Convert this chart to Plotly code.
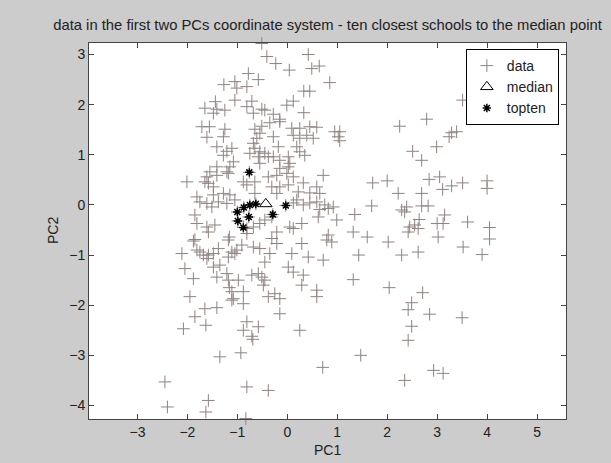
import plotly.graph_objects as go

# ---- data ----
data_x = [
    -0.51, -0.41, -0.23, 0.42, 0.04, 0.49, 0.64, 0.85, -0.78, -0.58,
    -1.05, -1.27, -1.01, -0.81, 0.33, 0.45, -1.05,
    -1.65, -1.44, -1.41, -1.25, -1.48,
    -0.81, -0.71, -0.68, -0.51, -0.45, -0.28, -0.15,
    -0.01, 0.12, 0.33,
    -1.71, -1.56, -1.61, -1.25, -1.28,
    -0.65, -0.51, -0.55, -0.35, -0.61, -0.28, -0.15,
    0.09, 0.25, 0.45, 0.59, 0.39, 0.52, 0.25, 0.12,
    0.95, 1.05, 1.02, 1.05,
    -1.41, -1.21, -1.28, -1.11,
    -0.68, -0.65, -0.75, -0.55, -0.58, -0.45, -0.38, -0.55,
    -0.18, -0.28, -0.15, 0.02, 0.19, 0.25, 0.35, 0.05,
    -1.41, -1.55, -1.61, -1.41, -1.21, -1.15, -1.08, -1.18, -1.48, -1.58,
    -2.01, -1.65, -0.88, -0.81, -0.65,
    -0.38, -0.21, -0.15, 0.02, -0.01, 0.12, -0.31, -0.15, 0.02, -0.21,
    0.32, 0.45, 0.22, 0.72, 0.59, 0.65,
    -1.81, -1.75, -1.85,
    -1.61, -1.51, -1.48, -1.38, -1.21, -1.05, -1.15, -1.28, -0.65,
    0.12, 0.19, 0.32, 0.45, 0.59, 0.75, 0.92, 0.65, 0.82,
    -1.81, -1.61, -1.58, -1.45, -1.85, -1.88, -1.16, -1.18, -1.38,
    -1.81, -1.75, -1.68, -1.58, -1.61, -2.11, -1.48, -1.11, -1.18,
    -1.01, -1.05, -0.91, -0.68, -0.55, -0.81, -0.81,
    -0.68, -0.55, -0.45, -0.31, -0.21, -0.31, -0.21, -0.35, -0.45,
    0.05, 0.12, 0.29, 0.29, 0.09, 0.42, 0.72, 0.82, 0.89, 0.79, 0.62, 0.99,
    -2.05, -1.88, -1.48, -1.35, -1.41, -1.21, -1.18,
    -1.16, -1.11, -1.08, -1.11, -0.98, -0.88, -0.88,
    -0.71, -0.58, -0.51, -0.48, -0.45, -0.25, -0.38, -0.15, -0.15,
    0.02, 0.12, 0.32, 0.29, 0.59, 0.59,
    -1.95, -1.65, -1.41, -1.85, -1.63, -2.08,
    -0.81, -0.88, -0.58, -0.71, -0.69, 0.25,
    -1.35, -0.93, 0.71, -2.45, -0.81, -0.38, -2.40, -1.58, -1.63, -0.83,
    3.51, 2.79, 2.25, 3.29, 3.39, 3.24, 2.99, 2.51, 2.69, 1.71, 2.00,
    2.22, 2.69, 2.84, 3.05, 3.11, 3.29, 3.51, 4.00, 4.00,
    1.69, 1.35, 2.29, 2.35, 2.39, 2.69, 2.82, 3.15,
    2.64, 2.55, 2.45, 2.62, 2.42, 3.00, 3.12, 3.02, 3.61, 4.05, 4.05,
    1.32, 1.60, 2.02, 1.43, 2.29, 2.62, 3.52, 3.90,
    1.32, 2.04, 2.71, 2.49, 2.42, 2.85, 3.50, 2.49, 2.42, 1.47,
    2.93, 3.12, 2.35,
]
data_y = [
    3.22, 2.96, 2.82, 3.00, 2.69, 2.72, 2.77, 2.44, 2.62, 2.50,
    2.46, 2.40, 2.33, 2.36, 2.27, 2.27, 2.09,
    1.93, 2.06, 1.91, 1.89, 1.83,
    1.96, 2.07, 1.83, 1.91, 1.89, 1.81, 1.71,
    1.99, 2.07, 1.84,
    1.56, 1.56, 1.35, 1.51, 1.36,
    1.51, 1.57, 1.43, 1.64, 1.33, 1.36, 1.66,
    1.53, 1.53, 1.56, 1.55, 1.39, 1.33, 1.33, 1.39,
    1.46, 1.46, 1.36, 1.28,
    1.16, 1.07, 0.99, 1.13,
    1.23, 1.13, 1.03, 1.06, 0.96, 1.03, 0.96, 0.83,
    1.16, 0.96, 0.89, 0.96, 1.16, 1.06, 0.99, 0.83,
    0.76, 0.66, 0.56, 0.59, 0.66, 0.76, 0.86, 0.63, 0.36, 0.43,
    0.46, 0.46, 0.46, 0.40, 0.46,
    0.56, 0.59, 0.73, 0.76, 0.63, 0.56, 0.36, 0.36, 0.40, 0.23,
    0.44, 0.24, 0.26, 0.59, 0.36, 0.23,
    0.16, 0.06, -0.20,
    0.03, -0.04, 0.20, 0.06, 0.03, 0.10, 0.20, 0.23, 0.23,
    0.04, 0.10, 0.00, 0.04, 0.06, 0.00, -0.04, -0.09, -0.07,
    -0.37, -0.44, -0.54, -0.40, -0.69, -0.72, -0.64, -0.70, -0.87,
    -0.90, -0.94, -1.00, -1.00, -1.07, -0.97, -0.97, -0.94, -1.04,
    -0.90, -0.97, -0.80, -0.84, -0.87, -0.57, -0.47,
    -0.44, -0.37, -0.30, -0.24, -0.54, -0.67, -0.77, -0.97, -1.14,
    -0.44, -0.47, -0.37, -0.77, -0.97, -1.04, -1.10, -0.60, -0.74, -0.70, -0.24, -0.30,
    -1.27, -1.47, -1.24, -1.20, -1.44, -1.37, -1.50,
    -1.65, -1.73, -1.87, -1.90, -1.50, -1.73, -1.97,
    -1.40, -1.37, -1.44, -1.60, -1.50, -1.77, -1.83, -1.87, -2.17,
    -1.24, -1.34, -1.40, -1.60, -1.70, -1.83,
    -1.83, -2.07, -2.05, -2.23, -2.40, -2.47,
    -2.33, -2.50, -2.43, -2.62, -2.68, -2.50,
    -3.03, -2.95, -3.24, -3.53, -3.63, -3.70, -4.03, -3.90, -4.13, -4.26,
    2.09, 1.71, 1.57, 1.44, 1.46, 1.36, 1.16, 1.07, 0.89, 0.44, 0.48,
    0.23, 0.23, 0.51, 0.56, 0.31, 0.38, 0.44, 0.48, 0.33,
    -0.02, -0.19, -0.10, -0.14, -0.04, -0.02, -0.02, -0.20,
    -0.29, -0.40, -0.44, -0.47, -0.54, -0.37, -0.37, -0.64, -0.34, -0.45, -0.68,
    -0.54, -0.64, -0.74, -1.00, -1.00, -0.94, -0.84, -0.99,
    -1.49, -1.65, -1.75, -1.95, -2.09, -2.18, -2.25, -2.42, -2.70, -3.00,
    -3.30, -3.36, -3.50,
]
median_x = [-0.43]
median_y = [0.02]
topten_x = [-0.76, -1.00, -0.87, -0.75, -0.63, -0.99, -0.88, -0.77, -0.29, -0.03]
topten_y = [0.65, -0.14, -0.05, 0.00, 0.02, -0.32, -0.45, -0.24, -0.19, -0.01]

x_ticks = [-3, -2, -1, 0, 1, 2, 3, 4, 5]
y_ticks = [-4, -3, -2, -1, 0, 1, 2, 3]

FONT = "Liberation Sans, Arial, Helvetica, sans-serif"
TXT = "#222222"

fig = go.Figure()
fig.add_trace(go.Scatter(
    x=data_x + topten_x, y=data_y + topten_y, mode="markers", name="data",
    marker=dict(symbol="cross-thin-open", size=9, color="#8e8380",
                line=dict(width=1, color="#8e8380")),
    cliponaxis=False,
))
fig.add_trace(go.Scatter(
    x=median_x, y=median_y, mode="markers", name="median",
    marker=dict(symbol="triangle-up-open", size=11, color="black",
                line=dict(width=1, color="black")),
    cliponaxis=False,
))
fig.add_trace(go.Scatter(
    x=topten_x, y=topten_y, mode="markers", name="topten",
    marker=dict(symbol="asterisk-open", size=7, color="black",
                line=dict(width=1.5, color="black")),
    cliponaxis=False,
))

axis_common = dict(
    showgrid=False, zeroline=False, showline=True, linecolor="#444444",
    linewidth=1, mirror="ticks", ticks="inside", ticklen=5,
    tickcolor="#444444", tickfont=dict(family=FONT, size=14, color=TXT),
)
fig.update_xaxes(range=[-3.97, 5.58], tickvals=x_ticks, **axis_common)
fig.update_yaxes(range=[-4.27, 3.23], tickvals=y_ticks, **axis_common)

fig.update_layout(
    width=611, height=463,
    margin=dict(l=89, r=45, t=43, b=44),
    paper_bgcolor="#cccccc", plot_bgcolor="white",
    font=dict(family=FONT, size=14, color=TXT),
    title=dict(text="data in the first two PCs coordinate system - ten closest schools to the median point",
               x=0.5, xref="paper", xanchor="center",
               y=1 - 25 / 463, yref="container", yanchor="middle",
               font=dict(family=FONT, size=14.8, color=TXT)),
    showlegend=True,
    legend=dict(x=0.985, y=0.984, xanchor="right", yanchor="top",
                bgcolor="white", bordercolor="black", borderwidth=1,
                font=dict(family=FONT, size=14, color=TXT),
                itemwidth=30, tracegroupgap=0),
    annotations=[
        dict(text="PC1", x=0.5, y=-(450 - 419) / 376, xref="paper", yref="paper",
             showarrow=False, xanchor="center", yanchor="middle",
             font=dict(family=FONT, size=14, color=TXT)),
        dict(text="PC2", x=-(89 - 53) / 477, y=0.5, xref="paper", yref="paper",
             showarrow=False, textangle=-90, xanchor="center", yanchor="middle",
             font=dict(family=FONT, size=14, color=TXT)),
    ],
)

fig.write_html("out.html")
